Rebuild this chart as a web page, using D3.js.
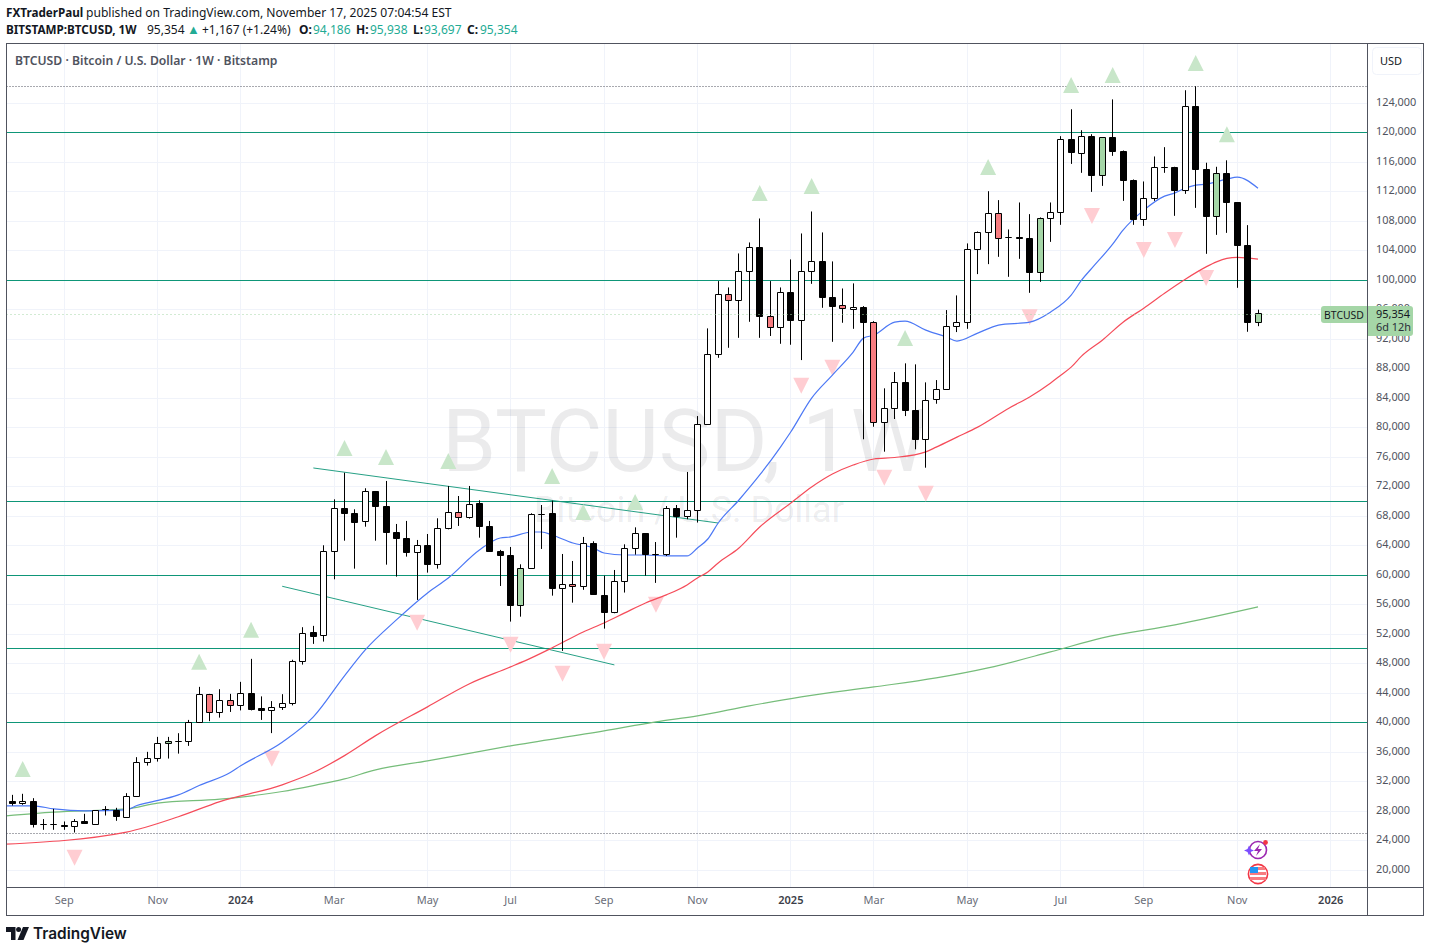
<!DOCTYPE html>
<html><head><meta charset="utf-8">
<script src="https://cdn.jsdelivr.net/npm/d3@7/dist/d3.min.js"></script>
<style>html,body{margin:0;padding:0;background:#fff}svg{display:block}text{font-family:"Noto Sans",sans-serif}</style>
</head><body><svg id="c" width="1430" height="952"></svg>
<script>
const opens=[29300,28970,29300,26120,26180,26040,25910,26590,26180,28120,27980,27100,29970,34510,35120,37100,37420,37420,40000,43800,41360,42990,42310,43940,41790,41600,42050,42580,48270,52230,51790,63180,69000,68330,67240,71310,69280,65750,64940,62990,63990,61360,66290,68460,67790,69680,66560,63180,62630,55860,60870,68200,68240,58110,58700,58430,64260,57190,54860,59090,63590,65620,62770,62770,69000,67910,68670,80430,89830,98000,97190,101120,104380,94970,93530,98280,94430,101120,102480,97550,96460,95970,96240,94210,80660,82500,86080,82280,78300,83690,85130,93670,94160,104100,106410,108980,105730,105730,105590,100990,108300,109110,119010,117060,119420,114130,119280,117390,113460,108170,111020,115220,115220,112090,123480,114950,108570,114350,110470,104590,94186];
const closes=[28970,29300,26120,26180,26180,25850,26530,26260,28080,28120,27210,29970,34550,35120,37150,37420,37420,40000,43800,41360,42990,42310,43940,41730,41600,42000,42580,48270,52060,51590,63180,69000,68270,67050,71310,69220,65700,64880,62990,63990,61360,66290,68460,67790,69550,66510,63120,62580,55810,60870,68200,68200,58110,58700,58430,64260,57270,54860,59090,63590,65620,62770,62770,69000,67860,68670,80430,89870,98000,97190,101120,104380,94970,93530,98280,94430,101120,102480,97550,96330,96110,96240,94160,80660,82500,86080,82230,78300,83640,85130,93670,94160,104100,106410,108980,105590,105730,105590,100930,108300,109110,119010,117200,119420,114080,119280,117330,113400,108120,111020,115220,115220,112050,123480,114950,108520,114350,110420,104590,94190,95354];
const highs=[30150,30290,29700,26860,28250,26540,26860,27580,28080,28620,28390,30380,35260,35980,38010,38010,38510,40310,44790,43840,44470,43840,45470,48590,43500,42860,43800,48470,52880,53060,63990,70220,73830,68870,71720,71350,72710,66880,67290,64710,65520,67650,72030,70670,72030,70090,67290,63360,63760,61410,68330,69450,70030,62810,61860,65120,64530,59870,60640,64120,66420,65620,64430,69310,69450,73930,81510,93400,99810,98950,103560,105050,108300,99810,98950,102750,106270,109250,106410,102480,98810,99500,96420,94380,85270,87480,88660,88520,86080,86390,95880,97870,104920,106540,112000,110790,106810,110470,108890,108440,110470,119460,123110,120270,119730,119280,124450,117520,113590,113320,116710,117970,115310,125690,126230,115860,115310,116190,110510,107400,95938];
const lows=[28700,28800,25720,25410,25410,25410,25040,26260,26180,27350,26630,27070,29920,34120,34660,35070,35740,36790,40000,40140,40620,41390,41600,41600,40310,38520,41660,42280,47810,50620,50930,59380,64610,60820,66510,64610,61360,59740,62450,56580,60280,60820,66150,66610,67600,65020,63120,58470,53640,54310,60870,63490,57160,49670,56210,57950,57270,52690,54770,57580,62720,59870,58890,62540,65020,67520,67070,80390,89410,90770,92120,94290,92120,92370,91310,91180,89100,99440,96190,91580,94160,93340,78360,80060,76680,81110,81510,77000,74510,83180,85070,92900,93340,100760,102110,103100,100390,102830,98220,99710,105130,107440,115700,114490,111910,112720,116790,110690,107440,107300,110690,114490,108660,111640,109740,103510,106080,106350,98900,92940,93697];
const redCandles=[19,21,43,54,69,73,80,83,95];
const greenCandles=[15,49,99,105,116,120];

const blueIdx=[-1,2,4,7,11,12,13,16,18,21,22,26,29,32,34,37,40,42,45,47,48,50,51,52,54,56,57,59,61,63,65,66,67,68,70,72,74,75,77,79,81,82,83,85,86,88,90,91,93,95,98,100,102,103,104,106,107,109,111,112,113,114,115,117,118,120];
const blueVal=[28660,28660,28250,27980,28120,28700,29070,30150,31410,33170,34080,37290,40720,46280,49800,53870,57530,59560,63360,64980,65120,65790,65790,65390,64300,63620,62940,62670,62670,62540,62540,63620,64840,67010,70130,73520,77310,79380,83950,87070,90190,92080,92490,94250,94390,93170,92220,91680,92760,93850,94250,95600,97910,99940,101570,104820,106720,109430,111330,111770,112410,112820,112950,113630,113900,112410];
const redIdx=[-1,11,16,20,26,29,32,35,40,44,48,50,52,55,57,59,61,63,65,66,67,68,70,72,75,77,79,81,83,85,88,89,91,93,96,98,100,101,102,103,105,107,109,111,113,115,116,117,118,120];
const redVal=[23440,25100,27180,29240,31510,33170,35470,38180,42080,45190,47500,48720,50080,52240,53460,54820,56170,57260,58610,59560,60370,61590,63620,66470,69720,71890,73650,74870,75690,75890,76660,77300,78650,80010,82580,84110,85970,87050,88140,89630,91800,94240,96140,98170,100070,101740,102420,102880,103020,102790];
const greenIdx=[-1,4,11,14,20,26,29,32,35,40,48,57,62,66,71,76,83,89,94,100,105,112,120];
const greenVal=[27260,27810,28250,29030,29570,30600,31410,32320,33540,34760,36790,38820,40040,40850,42210,43430,44780,46000,47360,49530,51430,53190,55630];

const upIdx=[1,18,23,32,36,42,52,55,60,72,77,86,94,102,106,114,117];
const upVal=[33670,48180,52520,77180,75960,75420,73390,68510,69860,111740,112690,92080,115270,126390,127750,129370,119730];
const downIdx=[6,25,39,48,53,57,62,76,79,84,88,98,104,109,112,115];
const downVal=[21610,35030,53490,50510,46580,49560,55930,85630,88070,73150,70980,94910,108640,104030,105390,100240];

const levels=[120000,100000,70000,60000,50000,40000];
const dottedLevels=[126230,25000];
const lastPrice=95354;
const trendUpper=[[29,74470],[68,67010]];
const trendLower=[[26,58430],[58,47770]];
const priceTicks=[124000,120000,116000,112000,108000,104000,100000,96000,92000,88000,84000,80000,76000,72000,68000,64000,60000,56000,52000,48000,44000,40000,36000,32000,28000,24000,20000];
const timeIdx=[5,14,22,31,40,48,57,66,75,83,92,101,109,118,127];
const timeLabels=["Sep","Nov","2024","Mar","May","Jul","Sep","Nov","2025","Mar","May","Jul","Sep","Nov","2026"];

const L=6.5,R=1367.5,T=43.5,B=887.5,OR=1423.5,OB=915.5;
const x=d3.scaleLinear().domain([0,120]).range([12.3,1258]);
const y=d3.scaleLinear().domain([120000,40000]).range([132.2,722.2]);
const crisp=v=>Math.round(v-0.5)+0.5;
const snap=v=>Math.round(v)+0.5;
const svg=d3.select("#c");
svg.append("defs").append("clipPath").attr("id","pane").append("rect").attr("x",L).attr("y",T).attr("width",R-L).attr("height",B-T);

// header
const h1=svg.append("text").attr("y",17).attr("font-size",12.1).attr("fill","#131722");
h1.append("tspan").attr("x",6).attr("font-weight",700).attr("font-size",11.7).text("FXTraderPaul");
h1.append("tspan").attr("x",86).text("published on TradingView.com, November 17, 2025 07:04:54 EST");
const h2=svg.append("text").attr("y",34).attr("font-size",12).attr("fill","#131722");
h2.append("tspan").attr("x",6).attr("font-weight",700).attr("font-size",11.7).text("BITSTAMP:BTCUSD, 1W");
h2.append("tspan").attr("x",147).text("95,354");
h2.append("tspan").attr("x",187).attr("fill","#22ab94").attr("font-size",13).text("▲");
h2.append("tspan").attr("x",202).text("+1,167 (+1.24%)");
[["O:",299,313,"94,186"],["H:",356,370,"95,938"],["L:",413,424,"93,697"],["C:",467,480,"95,354"]].forEach(([a,xa,xb,b])=>{
  h2.append("tspan").attr("x",xa).attr("font-weight",700).text(a);
  h2.append("tspan").attr("x",xb).attr("fill","#22ab94").text(b);
});

const pane=svg.append("g").attr("clip-path","url(#pane)");
// grid
pane.append("g").selectAll("line").data(priceTicks).join("line")
 .attr("x1",L).attr("x2",R).attr("y1",d=>snap(y(d))).attr("y2",d=>snap(y(d))).attr("stroke","#f0f3fa");
pane.append("g").selectAll("line").data(timeIdx).join("line")
 .attr("y1",T).attr("y2",B).attr("x1",d=>crisp(x(d))).attr("x2",d=>crisp(x(d))).attr("stroke","#f0f3fa");
// watermark
pane.append("text").attr("x",685).attr("y",471).attr("text-anchor","middle").attr("font-size",87).attr("fill","#131722").attr("fill-opacity",.085)
 .style("font-family","Roboto,sans-serif").text("BTCUSD, 1W");
pane.append("text").attr("x",689).attr("y",522).attr("text-anchor","middle").attr("font-size",36).attr("fill","#131722").attr("fill-opacity",.085)
 .style("font-family","Roboto,sans-serif").text("Bitcoin / U.S. Dollar");
// levels
pane.append("g").selectAll("line").data(levels).join("line")
 .attr("x1",L).attr("x2",R).attr("y1",d=>snap(y(d))).attr("y2",d=>snap(y(d))).attr("stroke","#0e9678");
pane.append("g").selectAll("line").data(dottedLevels).join("line")
 .attr("x1",L).attr("x2",R).attr("y1",d=>snap(y(d))).attr("y2",d=>snap(y(d))).attr("stroke","#50535e").attr("stroke-dasharray","1 2");
// trend lines
[trendUpper,trendLower].forEach(t=>{
 pane.append("line").attr("x1",x(t[0][0])).attr("y1",y(t[0][1])).attr("x2",x(t[1][0])).attr("y2",y(t[1][1])).attr("stroke","#0e9678").attr("stroke-opacity",.9);
});
// triangles
const tri=(sel,ix,vals,fill,dir)=>sel.append("g").selectAll("path").data(ix).join("path")
 .attr("fill",fill)
 .attr("d",(d,i)=>{const cx=x(d),cy=y(vals[i]);return `M${cx-8},${cy-8*dir}L${cx+8},${cy-8*dir}L${cx},${cy+8*dir}Z`;});
tri(pane,upIdx,upVal,"#c8e6c9",-1);
tri(pane,downIdx,downVal,"#ffcdd2",1);
// moving averages
const mk=(ix,vals,c)=>{
 const ln=d3.line().x(d=>x(d)).y((d,i)=>y(vals[i])).curve(d3.curveMonotoneX);
 pane.append("path").attr("d",ln(ix)).attr("fill","none").attr("stroke",c).attr("stroke-width",1.2);
};
mk(greenIdx,greenVal,"#76bd7a");
mk(redIdx,redVal,"#f54c5a");
mk(blueIdx,blueVal,"#4c78f5");
// candles
const idx=d3.range(opens.length);
const fillOf=i=>redCandles.includes(i)?"#f77c80":greenCandles.includes(i)?"#a5d6a7":(closes[i]>=opens[i]?"#ffffff":"#000000");
const cg=pane.append("g");
cg.selectAll("line").data(idx).join("line")
 .attr("x1",i=>crisp(x(i))).attr("x2",i=>crisp(x(i))).attr("y1",i=>y(highs[i])).attr("y2",i=>y(lows[i])).attr("stroke","#000");
cg.selectAll("path").data(idx).join("path")
 .attr("fill",fillOf).attr("stroke","#000")
 .attr("d",i=>{const c=crisp(x(i)),a=crisp(y(Math.max(opens[i],closes[i]))),b=crisp(y(Math.min(opens[i],closes[i])));
   return `M${c-3},${a}H${c+3}V${b}H${c-3}Z`;});
// last price line
pane.append("line").attr("x1",L).attr("x2",1321).attr("y1",snap(y(lastPrice))).attr("y2",snap(y(lastPrice))).attr("stroke","#a5d6a7").attr("stroke-dasharray","1 3");
// pane title
svg.append("text").attr("x",15).attr("y",65).attr("font-size",12.2).attr("font-weight",600).attr("fill","#50535e").text("BTCUSD · Bitcoin / U.S. Dollar · 1W · Bitstamp");

// axes
const ya=d3.axisRight(y).tickValues(priceTicks).tickSize(0).tickPadding(8.5).tickFormat(d3.format(","));
const yg=svg.append("g").attr("transform",`translate(${R},-0.8)`).call(ya);
yg.select(".domain").remove();
yg.selectAll("text").attr("font-size",10.9).attr("fill","#50535e").style("font-family","'Noto Sans',sans-serif");
const xa=d3.axisBottom(x).tickValues(timeIdx).tickSize(0).tickPadding(9).tickFormat((d,i)=>timeLabels[i]);
const xg=svg.append("g").attr("transform",`translate(-0.5,${B})`).call(xa);
xg.select(".domain").remove();
xg.selectAll("text").attr("font-size",11).style("font-family","'Noto Sans',sans-serif")
 .attr("fill",(d,i)=>/^\d/.test(timeLabels[i])?"#3b3e48":"#6a6d78").attr("font-weight",(d,i)=>/^\d/.test(timeLabels[i])?600:400);

// price tags
const tag="#a5d6a7";
svg.append("path").attr("d","M1324,306H1367V323H1324Q1321,323 1321,320V309Q1321,306 1324,306Z").attr("fill",tag);
svg.append("path").attr("d","M1367,306H1410Q1413,306 1413,309V333Q1413,336 1410,336H1367Z").attr("fill",tag);
svg.append("text").attr("x",1344).attr("y",319).attr("text-anchor","middle").attr("font-size",10.4).attr("fill","#131722").text("BTCUSD");
svg.append("text").attr("x",1376).attr("y",318).attr("font-size",10.9).attr("fill","#131722").text("95,354");
svg.append("text").attr("x",1376).attr("y",331).attr("font-size",10.9).attr("fill","#2a2e39").text("6d 12h");
// USD box
svg.append("rect").attr("x",1372.5).attr("y",47.5).attr("width",49).attr("height",27).attr("rx",4).attr("fill","#fff").attr("stroke","#f0f3fa");
svg.append("text").attr("x",1391).attr("y",65).attr("text-anchor","middle").attr("font-size",11).attr("fill","#131722").text("USD");

// frame
const frame=svg.append("g").attr("fill","none").attr("stroke","#50535e");
frame.append("rect").attr("x",L).attr("y",T).attr("width",OR-L).attr("height",OB-T);
frame.append("line").attr("x1",R).attr("x2",R).attr("y1",T).attr("y2",OB);
frame.append("line").attr("x1",L).attr("x2",OR).attr("y1",B).attr("y2",B);

// event icons
const ic=svg.append("g");
ic.append("circle").attr("cx",1258).attr("cy",850).attr("r",8.5).attr("fill","#fff").attr("stroke","#9c27b0").attr("stroke-width",1.6);
ic.append("path").attr("d","M1260,844L1254,851H1258L1256,856L1262,849H1258Z").attr("fill","#9c27b0");
ic.append("circle").attr("cx",1265.5).attr("cy",842.5).attr("r",2.4).attr("fill","#f23645");
ic.append("path").attr("d","M1249,845.5L1250.5,849L1254,850.5L1250.5,852L1249,855.5L1247.5,852L1244,850.5L1247.5,849Z").attr("fill","#7c4dff");
ic.append("circle").attr("cx",1258).attr("cy",874).attr("r",9.6).attr("fill","#fff").attr("stroke","#f23645").attr("stroke-width",1.6);
ic.append("rect").attr("x",1251).attr("y",867).attr("width",14).attr("height",3).attr("fill","#f77c80");
ic.append("rect").attr("x",1250).attr("y",872).attr("width",16).attr("height",3).attr("fill","#f77c80");
ic.append("rect").attr("x",1250).attr("y",877).attr("width",16).attr("height",3).attr("fill","#f77c80");
ic.append("rect").attr("x",1250).attr("y",867).attr("width",8).attr("height",6).attr("fill","#2196f3");

// logo
const lg=svg.append("g").attr("fill","#131722");
lg.append("path").attr("d","M6,927H15.5V940H11V932H6Z");
lg.append("circle").attr("cx",18.6).attr("cy",929.6).attr("r",2.5);
lg.append("path").attr("d","M23,927H29L23.5,940H17.5Z");
svg.append("text").attr("x",33).attr("y",939).attr("font-size",15.4).attr("font-weight",600).attr("fill","#131722").style("font-family","Inter,sans-serif").text("TradingView");
</script></body></html>
